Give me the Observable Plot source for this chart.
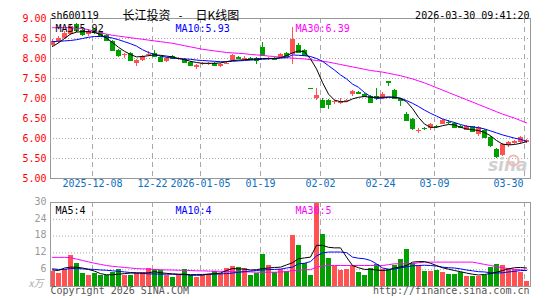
<!DOCTYPE html>
<html><head><meta charset="utf-8">
<script src="https://cdn.jsdelivr.net/npm/d3@7"></script>
<script src="https://cdn.jsdelivr.net/npm/@observablehq/plot@0.6"></script>
<style>
html,body{margin:0;padding:0;background:#fff;}
#chart{position:relative;width:545px;height:300px;overflow:hidden;background:#fff;}
#chart svg{position:absolute;left:0;overflow:visible;}
</style></head><body><div id="chart"></div>
<script>
const dates = [
"2025-11-27","2025-11-28","2025-12-01","2025-12-02","2025-12-03","2025-12-04","2025-12-05","2025-12-08","2025-12-09","2025-12-10",
"2025-12-11","2025-12-12","2025-12-15","2025-12-16","2025-12-17","2025-12-18","2025-12-19","2025-12-22","2025-12-23","2025-12-24",
"2025-12-25","2025-12-26","2025-12-29","2025-12-30","2025-12-31","2026-01-05","2026-01-06","2026-01-07","2026-01-08","2026-01-09",
"2026-01-12","2026-01-13","2026-01-14","2026-01-15","2026-01-16","2026-01-19","2026-01-20","2026-01-21","2026-01-22","2026-01-23",
"2026-01-26","2026-01-27","2026-01-28","2026-01-29","2026-01-30","2026-02-02","2026-02-03","2026-02-04","2026-02-05","2026-02-06",
"2026-02-09","2026-02-10","2026-02-11","2026-02-12","2026-02-13","2026-02-24","2026-02-25","2026-02-26","2026-02-27","2026-03-02",
"2026-03-03","2026-03-04","2026-03-05","2026-03-06","2026-03-09","2026-03-10","2026-03-11","2026-03-12","2026-03-13","2026-03-16",
"2026-03-17","2026-03-18","2026-03-19","2026-03-20","2026-03-23","2026-03-24","2026-03-25","2026-03-26","2026-03-27","2026-03-30"];

const open = [
8.33,8.42,8.50,8.60,8.85,8.70,8.60,8.72,8.64,8.58,
8.42,8.20,8.08,8.12,7.88,7.95,8.07,8.12,8.02,7.93,
8.05,7.97,7.98,7.90,7.78,7.85,7.86,7.88,7.80,7.86,
7.95,8.02,7.98,8.00,8.00,8.28,7.97,8.00,8.02,8.13,
8.11,8.32,8.20,7.26,6.99,6.96,6.94,6.91,6.88,6.92,
7.11,7.14,7.10,7.05,7.06,7.00,7.42,7.20,6.98,6.61,
6.47,6.18,6.25,6.24,6.30,6.36,6.40,6.38,6.29,6.21,
6.29,6.10,6.20,6.03,5.72,5.57,5.82,5.88,5.89,5.91];
const high = [
8.47,8.55,8.68,8.85,8.88,8.74,8.72,8.74,8.66,8.60,
8.45,8.22,8.12,8.14,7.98,8.08,8.18,8.20,8.04,8.02,
8.07,8.02,8.00,7.92,7.84,7.90,7.90,7.90,7.88,7.92,
8.10,8.06,8.04,8.02,8.02,8.40,8.03,8.02,8.12,8.15,
8.78,8.38,8.22,7.26,7.26,7.00,6.98,6.95,6.99,6.98,
7.21,7.18,7.12,7.08,7.25,7.14,7.43,7.22,7.00,6.65,
6.50,6.25,6.28,6.38,6.33,6.47,6.45,6.40,6.32,6.33,
6.31,6.29,6.22,6.05,5.75,5.88,5.93,5.95,6.05,5.98];
const low = [
8.28,8.38,8.47,8.58,8.66,8.56,8.56,8.60,8.52,8.42,
8.17,8.03,8.00,7.93,7.80,7.92,8.05,8.04,7.90,7.90,
7.97,7.95,7.88,7.80,7.72,7.82,7.83,7.82,7.78,7.84,
7.93,7.98,7.96,7.94,7.84,8.05,7.95,7.96,8.00,8.03,
7.86,8.12,8.05,7.26,6.95,6.76,6.72,6.86,6.85,6.90,
7.05,7.10,7.04,6.88,6.95,6.98,7.30,6.97,6.80,6.42,
6.20,6.12,6.20,6.20,6.26,6.34,6.35,6.26,6.25,6.19,
6.16,6.05,6.00,5.78,5.50,5.55,5.78,5.85,5.86,5.88];
const close = [
8.43,8.50,8.62,8.80,8.70,8.60,8.67,8.64,8.56,8.45,
8.20,8.08,8.10,7.95,7.96,8.05,8.10,8.06,7.93,8.00,
8.00,7.99,7.90,7.82,7.82,7.87,7.88,7.83,7.86,7.88,
8.07,8.00,8.00,7.98,7.95,8.07,8.01,7.98,8.10,8.05,
8.47,8.16,8.07,7.26,7.07,6.78,6.86,6.92,6.93,6.95,
7.18,7.13,7.06,6.90,7.02,7.10,7.40,6.99,6.96,6.45,
6.25,6.19,6.24,6.36,6.29,6.45,6.39,6.28,6.28,6.31,
6.18,6.27,6.03,5.82,5.55,5.86,5.90,5.92,6.03,5.95];
// volume, 万手
const volume = [
5.4,4.7,5.9,10.9,8.2,4.7,4.0,4.7,3.9,4.1,
4.9,6.2,4.0,4.0,4.5,4.9,6.3,6.1,5.6,4.0,
3.3,4.0,5.9,3.8,3.3,4.0,4.2,5.4,4.5,6.3,
7.0,6.8,6.6,3.9,4.7,11.3,7.5,4.9,6.2,5.5,
18.3,14.6,8.1,4.1,30,18.5,9.9,7.0,5.7,6.0,
7.5,4.9,4.1,6.3,7.7,6.0,6.0,7.5,9.5,13.1,
8.1,7.5,5.3,5.3,5.7,4.9,4.4,4.4,4.9,3.4,
3.4,3.4,3.9,6.7,7.7,7.5,6.5,6.0,5.1,1.7];
// moving-average lines as drawn in the picture
const ma5 = [
8.30,8.39,8.50,8.61,8.66,8.67,8.67,8.65,8.60,8.51,
8.40,8.28,8.18,8.10,8.04,8.05,8.07,8.09,8.08,8.06,
8.04,8.00,7.97,7.93,7.90,7.88,7.88,7.88,7.89,7.92,
7.95,7.96,7.97,7.98,7.99,8.00,8.00,8.00,8.02,8.07,
8.14,8.19,8.17,7.99,7.74,7.40,7.11,6.96,6.92,6.92,
6.99,7.03,7.05,7.03,7.03,7.03,7.04,7.03,7.00,6.92,
6.75,6.53,6.36,6.28,6.28,6.32,6.35,6.34,6.28,6.24,
6.22,6.20,6.15,6.07,5.95,5.86,5.84,5.85,5.88,5.92];
const ma10 = [
8.42,8.43,8.44,8.45,8.47,8.50,8.53,8.55,8.55,8.54,
8.51,8.47,8.42,8.37,8.31,8.22,8.15,8.10,8.06,8.03,
8.01,8.00,7.99,7.98,7.96,7.95,7.94,7.93,7.92,7.92,
7.93,7.94,7.95,7.96,7.97,7.98,7.99,8.00,8.01,8.02,
8.09,8.08,8.07,8.05,8.00,7.93,7.82,7.71,7.59,7.49,
7.36,7.28,7.15,7.05,7.00,7.01,7.03,7.03,7.01,6.95,
6.88,6.80,6.71,6.63,6.56,6.49,6.44,6.40,6.35,6.31,
6.29,6.27,6.24,6.19,6.14,6.09,6.05,6.01,5.98,5.93];
const ma30 = [
8.77,8.77,8.77,8.77,8.76,8.75,8.72,8.68,8.64,8.61,
8.58,8.56,8.54,8.52,8.50,8.48,8.46,8.44,8.42,8.40,
8.38,8.35,8.32,8.29,8.26,8.23,8.21,8.19,8.17,8.15,
8.14,8.13,8.12,8.10,8.09,8.08,8.06,8.05,8.03,8.02,
8.01,8.00,7.99,7.97,7.95,7.93,7.91,7.88,7.85,7.82,
7.79,7.76,7.73,7.70,7.68,7.66,7.63,7.60,7.57,7.53,
7.49,7.44,7.39,7.33,7.27,7.21,7.15,7.09,7.03,6.97,
6.91,6.85,6.79,6.73,6.67,6.61,6.56,6.51,6.45,6.39];
const volMa5 = [
5.9,5.7,6.6,6.9,6.9,6.6,6.1,5.5,4.6,4.2,
4.2,4.4,4.6,4.8,4.8,4.8,4.9,5.3,4.9,4.7,
4.5,4.4,4.4,4.1,4.0,4.1,4.4,4.6,4.8,5.7,
6.4,6.3,6.2,5.9,6.0,6.4,6.6,6.8,6.9,7.7,
8.5,9.9,10.2,10.5,14.7,14.7,14.0,13.8,13.8,10.5,
7.5,6.7,6.1,6.1,5.9,5.7,5.9,6.6,7.0,7.5,
8.7,8.9,8.9,8.3,7.5,6.7,6.2,5.7,5.3,4.8,
4.4,4.1,4.3,4.6,5.1,5.7,6.3,6.7,6.8,6.6];
const volMa10 = [
6.3,6.1,6.1,6.4,6.4,6.3,6.2,6.1,5.9,5.8,
5.6,5.4,5.2,5.0,4.9,4.7,4.5,4.5,4.4,4.4,
4.4,4.3,4.2,4.2,4.3,4.3,4.4,4.4,4.5,4.6,
4.8,5.1,5.3,5.5,5.7,5.9,6.0,6.1,6.2,6.6,
6.9,8.1,8.3,8.9,10.9,12.0,12.3,12.3,12.3,12.1,
10.5,10.1,9.9,9.3,8.1,6.6,6.2,6.2,6.7,7.0,
7.4,7.5,7.6,7.5,7.3,6.9,6.7,6.6,6.3,5.9,
5.6,5.3,5.2,4.9,4.8,4.9,5.2,5.4,5.7,5.7];
const volMa30 = [
10.4,10.4,10.4,10.3,9.8,9.3,8.8,8.3,7.9,7.5,
7.2,7.0,6.8,6.6,6.4,6.3,6.2,6.1,6.0,5.9,
5.9,5.8,5.8,5.7,5.6,5.6,5.5,5.5,5.4,5.4,
5.3,5.3,5.2,5.2,5.1,5.1,5.1,5.1,5.2,5.3,
5.7,5.8,6.0,6.0,6.9,7.3,7.5,7.5,7.5,7.5,
7.5,7.5,7.5,7.5,7.5,7.5,7.8,8.1,8.1,8.1,
8.1,8.5,8.7,8.7,8.7,8.7,8.7,8.7,8.7,8.7,
8.7,8.3,7.9,7.5,7.1,6.7,6.4,6.1,6.0,5.8];

const tickDates  = ["2025-12-08","2025-12-22","2026-01-05","2026-01-19","2026-02-02","2026-02-24","2026-03-09","2026-03-30"];
const tickLabels = ["2025-12-08","12-22","2026-01-05","01-19","02-02","02-24","03-09","03-30"];
const priceTicks = [5.00,5.50,6.00,6.50,7.00,7.50,8.00,8.50,9.00];
const volTicks = [6,12,18,24,30];
const title = {code: "sh600119", name: "长江投资", dash: "-", kind: "日K线图", time: "2026-03-30 09:41:20"};
const maLabels = ["MA5:5.92", "MA10:5.93", "MA30:6.39"];
const volMaLabels = ["MA5:4", "MA10:4", "MA30:5"];
const maColors = ["#000000", "#0000ff", "#ff00ff"];

const RED = "#ff5353", GREEN = "#00a000";
const MONO = "'DejaVu Sans Mono', 'Liberation Mono', monospace";
const CJK = "'Noto Sans CJK SC', sans-serif";

const candles = dates.map((d, i) => {
  let up;
  if (close[i] > open[i]) up = true;
  else if (close[i] < open[i]) up = false;
  else up = i > 0 ? close[i] >= close[i - 1] : true;
  return {i, date: d, open: open[i], high: high[i], low: low[i], close: close[i], vol: volume[i], color: up ? RED : GREEN};
});
const ticks = tickDates.map((d, k) => ({i: dates.indexOf(d), label: tickLabels[k]}));
const series = arr => arr.map((v, i) => ({i, v}));
const BW = 5 / 6, MID = 2 / 6;

const maMarks = (a, b, c) => [
  Plot.line(series(c), {x: d => d.i + MID, y: "v", stroke: maColors[2], strokeWidth: 1}),
  Plot.line(series(b), {x: d => d.i + MID, y: "v", stroke: maColors[1], strokeWidth: 1}),
  Plot.line(series(a), {x: d => d.i + MID, y: "v", stroke: maColors[0], strokeWidth: 1})
];
const legendMarks = (labels, dy) => labels.map((t, k) =>
  Plot.text([t], {frameAnchor: "top-left", dx: 5 + 120 * k, dy, textAnchor: "start", fill: maColors[k]}));

const price = Plot.plot({
  width: 545, height: 192,
  marginLeft: 50, marginRight: 15, marginTop: 18, marginBottom: 14,
  x: {domain: [0, 80], axis: null},
  y: {domain: [5, 9], axis: null},
  color: {type: "identity"},
  style: {fontFamily: MONO, fontSize: "10px", background: "transparent", overflow: "visible"},
  marks: [
    Plot.ruleY(priceTicks.slice(1, -1), {stroke: "#a8a8a8", strokeDasharray: "1,2"}),
    Plot.ruleX(ticks, {x: "i", stroke: "#a8a8a8", strokeDasharray: "5,4"}),
    Plot.text(["sina"], {frameAnchor: "bottom-right", dx: -3, dy: -8, textAnchor: "end", fontSize: 17, fontWeight: "bold", fontStyle: "italic", fill: "#d0d0d0", fontFamily: "'DejaVu Sans', sans-serif"}),
    Plot.dot([0], {frameAnchor: "bottom-right", dx: -17, dy: -18, r: 5, stroke: "#f2b8b8", strokeWidth: 2}),
    Plot.ruleX(candles, {x: d => d.i + MID, y1: "low", y2: "high", stroke: "color", shapeRendering: "crispEdges"}),
    Plot.rect(candles, {x1: "i", x2: d => d.i + BW, y1: d => Math.min(d.open, d.close), y2: d => Math.max(d.open, d.close), fill: "color", shapeRendering: "crispEdges"}),
    Plot.ruleY(candles, {y: "close", x1: "i", x2: d => d.i + BW, stroke: "color", shapeRendering: "crispEdges"}),
    ...maMarks(ma5, ma10, ma30),
    Plot.frame({stroke: "#999999"}),
    Plot.text(priceTicks, {y: d => d, text: d => d.toFixed(2), frameAnchor: "left", textAnchor: "end", dx: -4, fill: "#ff0000"}),
    Plot.text(ticks.slice(0, -1), {x: "i", text: "label", frameAnchor: "bottom", dy: 8, fill: "#0a6fc2"}),
    Plot.text(ticks.slice(-1), {x: "i", text: "label", frameAnchor: "bottom", dy: 8, dx: -1, textAnchor: "end", fill: "#0a6fc2"}),
    ...legendMarks(maLabels, 6),
    Plot.text([title.code], {frameAnchor: "top-left", dy: -7, textAnchor: "start", fill: "#000"}),
    Plot.text([title.name], {frameAnchor: "top-left", dx: 72, dy: -7, textAnchor: "start", fill: "#000", fontFamily: CJK, fontSize: 12}),
    Plot.text([title.dash], {frameAnchor: "top-left", dx: 127, dy: -7, textAnchor: "start", fill: "#000"}),
    Plot.text([title.kind], {frameAnchor: "top-left", dx: 145, dy: -7, textAnchor: "start", fill: "#000", fontFamily: CJK, fontSize: 12}),
    Plot.text([title.time], {frameAnchor: "top-right", dx: -1, dy: -7, textAnchor: "end", fill: "#000"})
  ]
});

const vol = Plot.plot({
  width: 545, height: 108,
  marginLeft: 50, marginRight: 15, marginTop: 10, marginBottom: 14,
  x: {domain: [0, 80], axis: null},
  y: {domain: [0, 30], axis: null},
  color: {type: "identity"},
  style: {fontFamily: MONO, fontSize: "10px", background: "transparent", overflow: "visible"},
  marks: [
    Plot.ruleY(volTicks.slice(0, -1), {stroke: "#a8a8a8", strokeDasharray: "1,2"}),
    Plot.ruleX(ticks, {x: "i", stroke: "#a8a8a8", strokeDasharray: "5,4"}),
    Plot.rect(candles, {x1: "i", x2: d => d.i + BW, y1: 0, y2: "vol", fill: "color", shapeRendering: "crispEdges"}),
    ...maMarks(volMa5, volMa10, volMa30),
    Plot.frame({stroke: "#999999"}),
    Plot.text(volTicks, {y: d => d, text: d => String(d), frameAnchor: "left", textAnchor: "end", dx: -4, dy: -1, fill: "#999999"}),
    Plot.text(["x万"], {frameAnchor: "bottom-left", dx: -22, dy: 0, textAnchor: "start", fill: "#aaaaaa", fontStyle: "italic", fontFamily: CJK, fontSize: 10}),
    ...legendMarks(volMaLabels, 4.5),
    Plot.text(["Copyright 2026 SINA.COM"], {frameAnchor: "bottom-left", dy: 7, textAnchor: "start", fill: "#555555"}),
    Plot.text(["http://finance.sina.com.cn"], {frameAnchor: "bottom-right", dx: -1, dy: 7, textAnchor: "end", fill: "#555555"})
  ]
});

price.style.top = "0px";
vol.style.top = "192px";
const root = document.getElementById("chart");
root.appendChild(price);
root.appendChild(vol);
</script></body></html>
